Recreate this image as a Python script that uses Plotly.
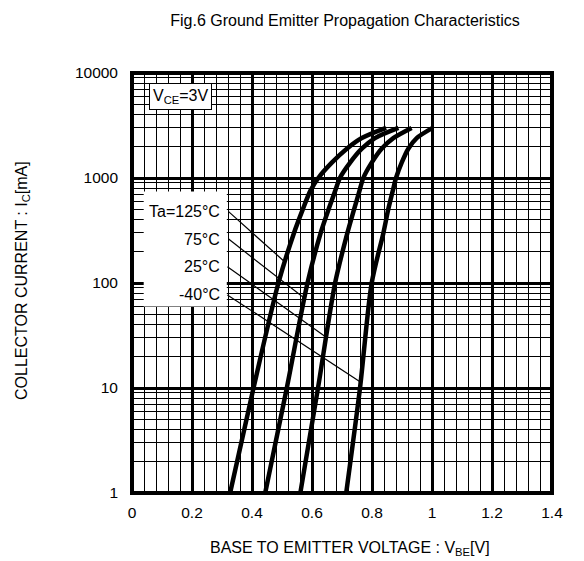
import math
import plotly.graph_objects as go

# ---- data ----
current_ma = [1, 10, 100, 300, 500, 750, 1000, 1400, 1900, 2400, 3000]
vbe_125 = [0.327, 0.405, 0.488, 0.540, 0.569, 0.594, 0.621, 0.666, 0.716, 0.766, 0.847]
vbe_75 = [0.444, 0.516, 0.585, 0.629, 0.655, 0.677, 0.693, 0.727, 0.766, 0.810, 0.888]
vbe_25 = [0.561, 0.620, 0.677, 0.718, 0.740, 0.758, 0.771, 0.799, 0.832, 0.871, 0.932]
vbe_m40 = [0.714, 0.760, 0.799, 0.838, 0.854, 0.869, 0.880, 0.899, 0.921, 0.949, 1.002]

temp_labels = ["Ta=125°C", "75°C", "25°C", "-40°C"]
label_current = [478, 262, 143, 77]
leader_start_v = [0.322, 0.322, 0.318, 0.318]
leader_end_v = [0.505, 0.575, 0.645, 0.760]
leader_end_current = [163, 71.5, 30.8, 11.5]

x_ticks = [0, 0.2, 0.4, 0.6, 0.8, 1.0, 1.2, 1.4]
x_tick_text = ["0", "0.2", "0.4", "0.6", "0.8", "1", "1.2", "1.4"]
y_ticks = [1, 10, 100, 1000, 10000]
y_tick_text = ["1", "10", "100", "1000", "10000"]
y_minor = [m * 10 ** k for k in range(4) for m in range(2, 10)]

FONT = "Liberation Sans, Arial, sans-serif"

# page body adds an 8px offset; figure laid out in page coords minus 8
OFF = 8
W, H = 576, 553
PL, PR, PT, PB = 132 - OFF, 552 - OFF, 73 - OFF, 493 - OFF  # plot edges in fig px
PW, PH = PR - PL, PB - PT

fig = go.Figure()

for v in [vbe_125, vbe_75, vbe_25, vbe_m40]:
    fig.add_trace(go.Scatter(
        x=v, y=current_ma, mode="lines",
        line=dict(color="black", width=4.5, shape="spline", smoothing=0.8),
        hoverinfo="skip", showlegend=False))

for i in range(4):
    fig.add_trace(go.Scatter(
        x=[leader_start_v[i], leader_end_v[i]],
        y=[label_current[i], leader_end_current[i]],
        mode="lines", line=dict(color="black", width=1.2),
        hoverinfo="skip", showlegend=False))
    fig.add_annotation(
        x=0.300, y=math.log10(label_current[i]), xref="x", yref="y",
        text=temp_labels[i], showarrow=False, xanchor="right", yanchor="middle",
        font=dict(family=FONT, size=16, color="black"))

# white box behind temperature labels
fig.add_shape(type="rect", xref="x", yref="paper",
              x0=0.039, x1=0.316, y0=0.444, y1=0.718,
              fillcolor="white", line=dict(width=0), layer="above")

# V_CE box
fig.add_annotation(
    x=0.0395, y=0.977, xref="paper", yref="paper", xanchor="left", yanchor="top",
    text="V<sub>CE</sub>=3V", showarrow=False, bgcolor="white",
    bordercolor="black", borderwidth=1, borderpad=3,
    font=dict(family=FONT, size=16, color="black"))

# plot border
fig.add_shape(type="rect", xref="paper", yref="paper", x0=0, x1=1, y0=0, y1=1,
              line=dict(color="black", width=4), layer="above")

# axis titles
fig.add_annotation(
    x=(350 - 132) / 420.0, y=(493 - 548) / 420.0, xref="paper", yref="paper",
    text="BASE TO EMITTER VOLTAGE : V<sub>BE</sub>[V]", showarrow=False,
    xanchor="center", yanchor="middle",
    font=dict(family=FONT, size=16, color="black"))
fig.add_annotation(
    x=(22 - 132) / 420.0, y=(493 - 281) / 420.0, xref="paper", yref="paper",
    text="COLLECTOR CURRENT : I<sub>C</sub>[mA]", showarrow=False, textangle=-90,
    xanchor="center", yanchor="middle",
    font=dict(family=FONT, size=16, color="black"))

fig.update_layout(
    width=W, height=H,
    margin=dict(l=PL, r=W - PR, t=PT, b=H - PB, pad=0, autoexpand=False),
    paper_bgcolor="white", plot_bgcolor="white",
    font=dict(family=FONT, size=16, color="black"),
    showlegend=False,
    title=dict(text="Fig.6 Ground Emitter Propagation Characteristics",
               x=(345 - OFF) / W, xanchor="center", xref="container",
               y=1 - (20 - OFF) / H, yanchor="middle", yref="container",
               font=dict(family=FONT, size=16, color="black")),
)

fig.update_xaxes(
    range=[0, 1.4], tickmode="array", tickvals=x_ticks, ticktext=x_tick_text,
    showgrid=True, gridcolor="black", gridwidth=2.5, automargin=False,
    zeroline=False, showline=False, ticks="", ticklabelstandoff=8,
    tickfont=dict(family=FONT, size=15.5, color="black"),
    minor=dict(dtick=0.04, tick0=0, showgrid=True, gridcolor="black", gridwidth=1),
)
fig.update_yaxes(
    type="log", range=[0, 4], tickmode="array", tickvals=y_ticks,
    ticktext=y_tick_text, automargin=False,
    showgrid=True, gridcolor="black", gridwidth=2.5,
    zeroline=False, showline=False, ticks="", ticklabelstandoff=13,
    tickfont=dict(family=FONT, size=15.5, color="black"),
    minor=dict(tickmode="array", tickvals=y_minor, showgrid=True,
               gridcolor="black", gridwidth=1),
)

fig.write_html("out.html")
